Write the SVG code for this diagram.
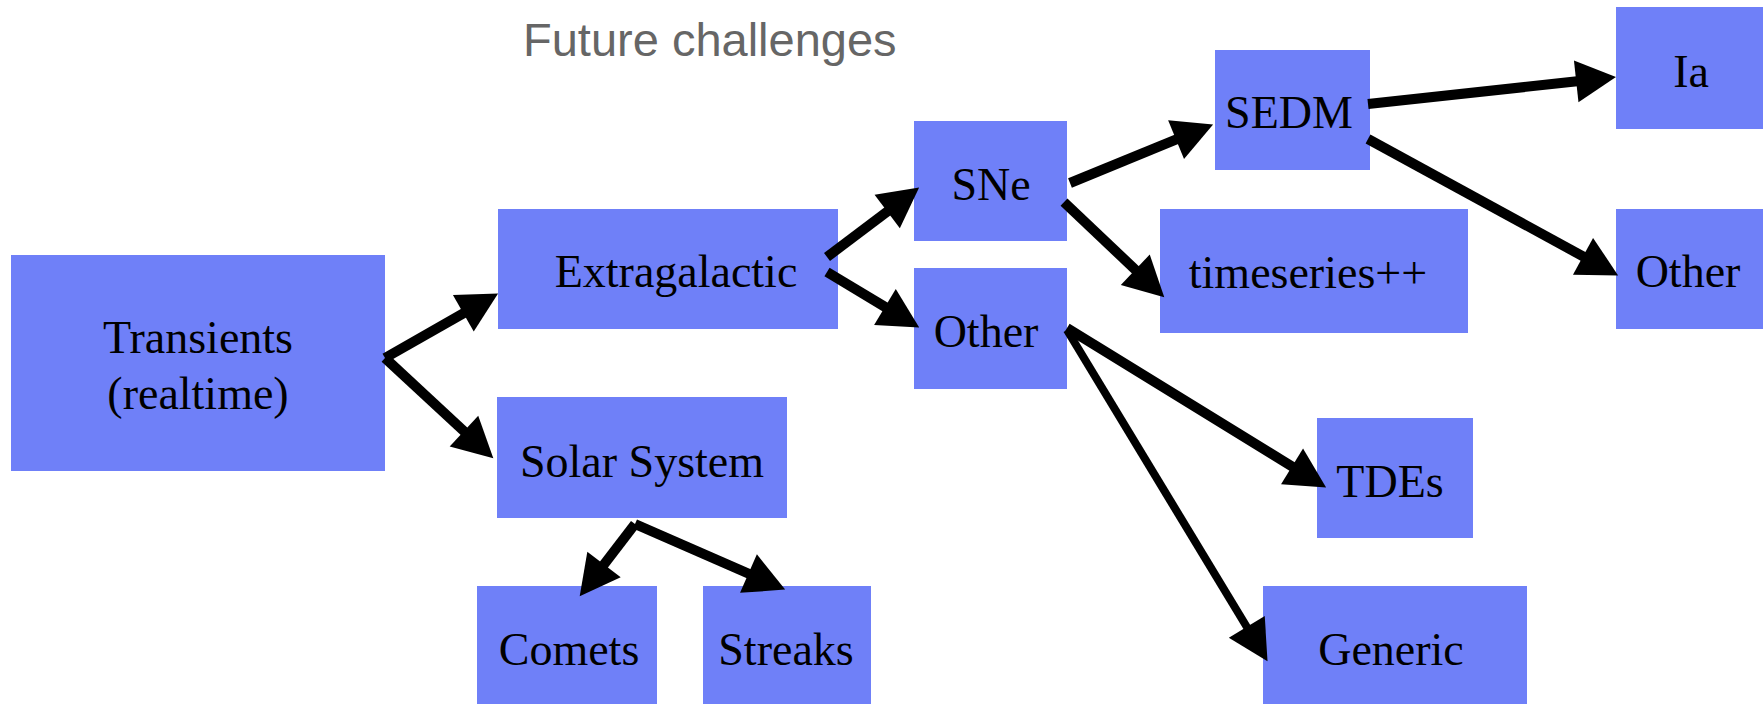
<svg xmlns="http://www.w3.org/2000/svg" width="1763" height="704" viewBox="0 0 1763 704">
<style>
.box{fill:#6f80f8;}
.lbl{font-family:"Liberation Serif",serif;font-size:46px;fill:#000;text-anchor:middle;}
.title{font-family:"Liberation Sans",sans-serif;font-size:47px;fill:#666;}
.conn line{stroke:#000;stroke-width:10;fill:none;marker-end:url(#ah);}
</style>
<defs>
<marker id="ah" markerUnits="userSpaceOnUse" orient="auto" markerWidth="44" markerHeight="44" refX="1" refY="21" viewBox="0 0 44 42" overflow="visible">
<path d="M0,0 L40,21 L0,42 z" fill="#000"/>
</marker>
</defs>
<rect width="1763" height="704" fill="#fff"/>
<text class="title" x="523" y="56">Future challenges</text>
<g id="transients"><rect class="box" x="11" y="255" width="374" height="216"/><text class="lbl" x="198" y="353">Transients</text><text class="lbl" x="198" y="409">(realtime)</text></g>
<g id="extragalactic"><rect class="box" x="498" y="209" width="340" height="120"/><text class="lbl" x="676" y="287">Extragalactic</text></g>
<g id="solar"><rect class="box" x="497" y="397" width="290" height="121"/><text class="lbl" x="642" y="477">Solar System</text></g>
<g id="comets"><rect class="box" x="477" y="586" width="180" height="118"/><text class="lbl" x="569" y="665">Comets</text></g>
<g id="streaks"><rect class="box" x="703" y="586" width="168" height="118"/><text class="lbl" x="786" y="665">Streaks</text></g>
<g id="sne"><rect class="box" x="914" y="121" width="153" height="120"/><text class="lbl" x="991" y="200">SNe</text></g>
<g id="other1"><rect class="box" x="914" y="268" width="153" height="121"/><text class="lbl" x="986" y="347">Other</text></g>
<g id="sedm"><rect class="box" x="1215" y="50" width="155" height="120"/><text class="lbl" x="1289" y="128">SEDM</text></g>
<g id="timeseries"><rect class="box" x="1160" y="209" width="308" height="124"/><text class="lbl" x="1308" y="288">timeseries++</text></g>
<g id="ia"><rect class="box" x="1616" y="7" width="147" height="122"/><text class="lbl" x="1691" y="87">Ia</text></g>
<g id="other2"><rect class="box" x="1616" y="209" width="147" height="120"/><text class="lbl" x="1688" y="287">Other</text></g>
<g id="tdes"><rect class="box" x="1317" y="418" width="156" height="120"/><text class="lbl" x="1390" y="497">TDEs</text></g>
<g id="generic"><rect class="box" x="1263" y="586" width="264" height="118"/><text class="lbl" x="1391" y="665">Generic</text></g>
<g id="connectors" class="conn">
<line x1="385" y1="358" x2="464.2" y2="312.8"/>
<line x1="385" y1="358" x2="464.7" y2="431.8"/>
<line x1="827" y1="257" x2="888" y2="211"/>
<line x1="827" y1="272" x2="885.8" y2="307.4"/>
<line x1="1070" y1="183" x2="1177" y2="139.2"/>
<line x1="1064" y1="202" x2="1136" y2="270.4"/>
<line x1="1368" y1="104" x2="1577.2" y2="81.3"/>
<line x1="1368" y1="139" x2="1583.9" y2="256.8"/>
<line x1="1067" y1="328" x2="1292.9" y2="467"/>
<line x1="1067" y1="330" x2="1247.3" y2="627.8" style="stroke-width:8"/>
<line x1="635" y1="524" x2="603.4" y2="565.3"/>
<line x1="635" y1="524" x2="749.4" y2="574"/>
</g>
</svg>
